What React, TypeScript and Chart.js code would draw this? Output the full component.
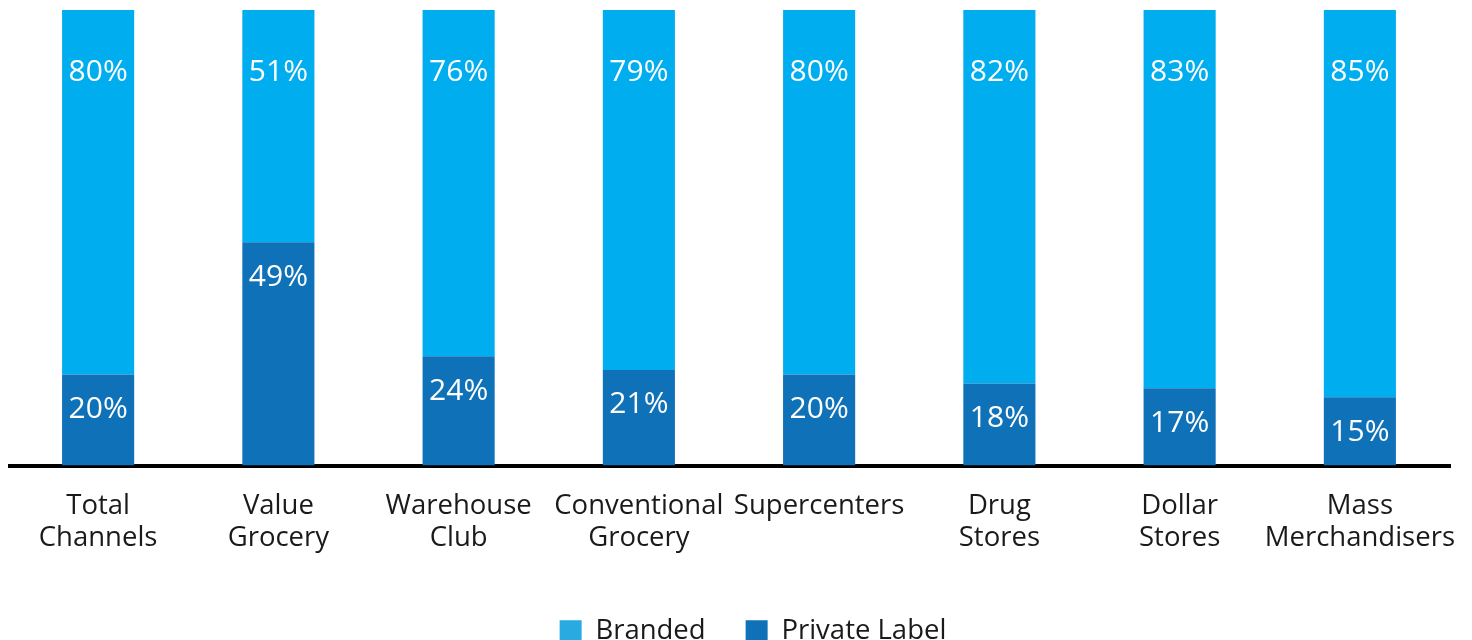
import React, { useEffect, useRef } from "react";
import { Chart, registerables } from "chart.js";

Chart.register(...registerables);

const categories: string[][] = [
  ["Total", "Channels"],
  ["Value", "Grocery"],
  ["Warehouse", "Club"],
  ["Conventional", "Grocery"],
  ["Supercenters"],
  ["Drug", "Stores"],
  ["Dollar", "Stores"],
  ["Mass", "Merchandisers"],
];
const privateLabel = [20, 49, 24, 21, 20, 18, 17, 15];
const branded = [80, 51, 76, 79, 80, 82, 83, 85];

const FONT = "'Open Sans', 'Noto Sans', sans-serif";

const valueLabels = {
  id: "valueLabels",
  afterDatasetsDraw(chart: any) {
    const ctx = chart.ctx;
    ctx.save();
    ctx.fillStyle = "#ffffff";
    ctx.font = `30px ${FONT}`;
    ctx.textAlign = "center";
    ctx.textBaseline = "middle";
    chart.data.datasets.forEach((ds: any, di: number) => {
      const meta = chart.getDatasetMeta(di);
      meta.data.forEach((bar: any, i: number) => {
        const top = Math.min(bar.y, bar.base);
        const off = ds.label === "Branded" ? 62 : 35;
        ctx.fillText(ds.data[i] + "%", bar.x, top + off);
      });
    });
    ctx.restore();
  },
};

const legendShift = {
  id: "legendShift",
  afterLayout(chart: any) {
    const lg = chart.legend;
    if (lg) {
      lg.left += 24;
      lg.right += 24;
    }
  },
};

export default function App() {
  const ref = useRef<HTMLCanvasElement | null>(null);
  useEffect(() => {
    if (!ref.current) return;
    const chart = new Chart(ref.current, {
      type: "bar",
      data: {
        labels: categories,
        datasets: [
          {
            label: "Private Label",
            data: privateLabel,
            backgroundColor: "#0F71B8",
            barPercentage: 0.4,
            categoryPercentage: 1,
          },
          {
            label: "Branded",
            data: branded,
            backgroundColor: "#00AEEF",
            barPercentage: 0.4,
            categoryPercentage: 1,
          },
        ],
      },
      options: {
        animation: false,
        responsive: false,
        maintainAspectRatio: false,
        layout: { padding: { top: 2, right: 14, left: 0, bottom: 0 } },
        scales: {
          x: {
            stacked: true,
            grid: { display: false },
            border: { display: true, color: "#000000", width: 4 },
            afterFit: (scale: any) => {
              scale.height += 7;
              scale.paddingLeft = 0;
              scale.paddingRight = 0;
            },
            ticks: {
              color: "#1a1a1a",
              font: { family: FONT, size: 27.5, lineHeight: 1.18 },
              padding: 16,
              maxRotation: 0,
              autoSkip: false,
            },
          },
          y: {
            stacked: true,
            display: false,
            min: 0,
            max: 100,
          },
        },
        plugins: {
          legend: {
            position: "bottom",
            labels: {
              boxWidth: 22,
              boxHeight: 22,
              padding: 40,
              color: "#1a1a1a",
              font: { family: FONT, size: 27.5 },
              generateLabels: (c: any) => {
                const items = Chart.defaults.plugins.legend.labels.generateLabels(c);
                items.forEach((it: any) => {
                  it.fillStyle = it.text === "Branded" ? "#29ABE2" : "#0F71B8";
                  it.lineWidth = 0;
                  it.strokeStyle = "rgba(0,0,0,0)";
                });
                return items.reverse();
              },
            },
          },
          tooltip: { enabled: false },
        },
      },
      plugins: [valueLabels, legendShift],
    });
    return () => chart.destroy();
  }, []);
  return <canvas ref={ref} width={1456} height={647} style={{ display: "block" }} />;
}
